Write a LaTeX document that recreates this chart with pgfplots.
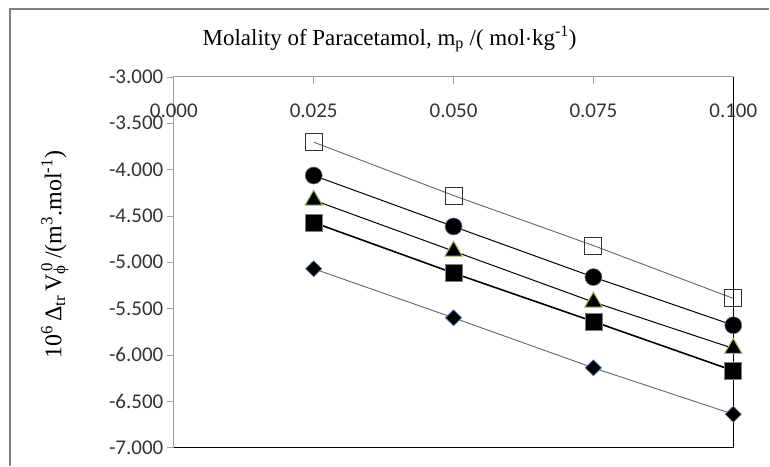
\documentclass[border=0pt]{standalone}
\usepackage{fontspec}
\setmainfont{Liberation Serif}
\newfontfamily\calibri{Carlito}
\usepackage{pgfplots}
\pgfplotsset{compat=1.18}

\definecolor{axgray}{RGB}{160,160,160}
\definecolor{framegray}{RGB}{128,128,128}
\definecolor{triedge}{RGB}{155,187,89}
\definecolor{circedge}{RGB}{128,100,162}
\definecolor{diaedge}{RGB}{79,129,189}

\begin{document}
\begin{tikzpicture}
  % canvas 770 x 466 pt, y measured upward
  \path (0pt,0pt) rectangle (770pt,466pt);
  \draw[framegray, line width=1.5pt] (10pt,0pt) -- (10pt,457pt) -- (770pt,457pt);

  \begin{axis}[
    at={(174pt,18pt)}, anchor=south west,
    scale only axis, width=560pt, height=371pt,
    xmin=0, xmax=0.1, ymin=-7, ymax=-3,
    xtick={0,0.025,0.05,0.075,0.1},
    ytick={-7,-6.5,-6,-5.5,-5,-4.5,-4,-3.5,-3},
    xtick pos=right, ytick pos=left,
    xticklabel pos=right,
    x tick label style={anchor=north, yshift=-23pt},
    xtick align=inside, ytick align=outside,
    major tick length=7pt,
    tick style={axgray, line width=0.8pt},
    axis line style={axgray, line width=1pt},
    ticklabel style={font=\calibri\fontsize{21}{22}\selectfont, text=black!80},
    /pgf/number format/assume math mode=true,
    /pgf/number format/fixed, /pgf/number format/fixed zerofill,
    /pgf/number format/precision=3,
    clip=false,
  ]
    % open squares
    \addplot[gray!80!black, line width=0.9pt, mark=square, mark size=8.5pt,
      mark options={black!80, line width=1pt, fill=none}] coordinates {
      (0.025,-3.704) (0.050,-4.280) (0.075,-4.820) (0.100,-5.390)};
    % circles
    \addplot[black, line width=1pt, mark=*, mark size=8.5pt,
      mark options={circedge, fill=black, line width=0.6pt}] coordinates {
      (0.025,-4.064) (0.050,-4.614) (0.075,-5.160) (0.100,-5.680)};
    % triangles
    \addplot[black, line width=1pt, mark=triangle*, mark size=10pt,
      mark options={triedge, fill=black, line width=1pt}] coordinates {
      (0.025,-4.330) (0.050,-4.880) (0.075,-5.430) (0.100,-5.930)};
    % filled squares
    \addplot[black, line width=1.6pt, mark=square*, mark size=8.5pt,
      mark options={gray, fill=black, line width=0.8pt}] coordinates {
      (0.025,-4.571) (0.050,-5.117) (0.075,-5.640) (0.100,-6.170)};
    % diamonds
    \addplot[gray!80!black, line width=0.9pt, mark=diamond*, mark size=8pt,
      mark options={diaedge, fill=black, line width=0.6pt, xscale=1.35}] coordinates {
      (0.025,-5.070) (0.050,-5.600) (0.075,-6.140) (0.100,-6.640)};

    \draw[black, line width=1.2pt] (rel axis cs:0,0) -- (rel axis cs:1,0) -- (rel axis cs:1,1);
  \end{axis}

  \node[font=\fontsize{23}{25}\selectfont] at (390pt,427pt)
    {Molality of Paracetamol, m\textsubscript{p} /( mol$\cdot$kg\textsuperscript{-1})};
  \node[rotate=90, font=\fontsize{24}{26}\selectfont] at (55pt,211pt)
    {10\textsuperscript{6}\,Δ\textsubscript{tr}\,V\rlap{\textsubscript{ϕ}}\textsuperscript{\,0}\,/(m\textsuperscript{3}.mol\textsuperscript{-1})};
\end{tikzpicture}
\end{document}
